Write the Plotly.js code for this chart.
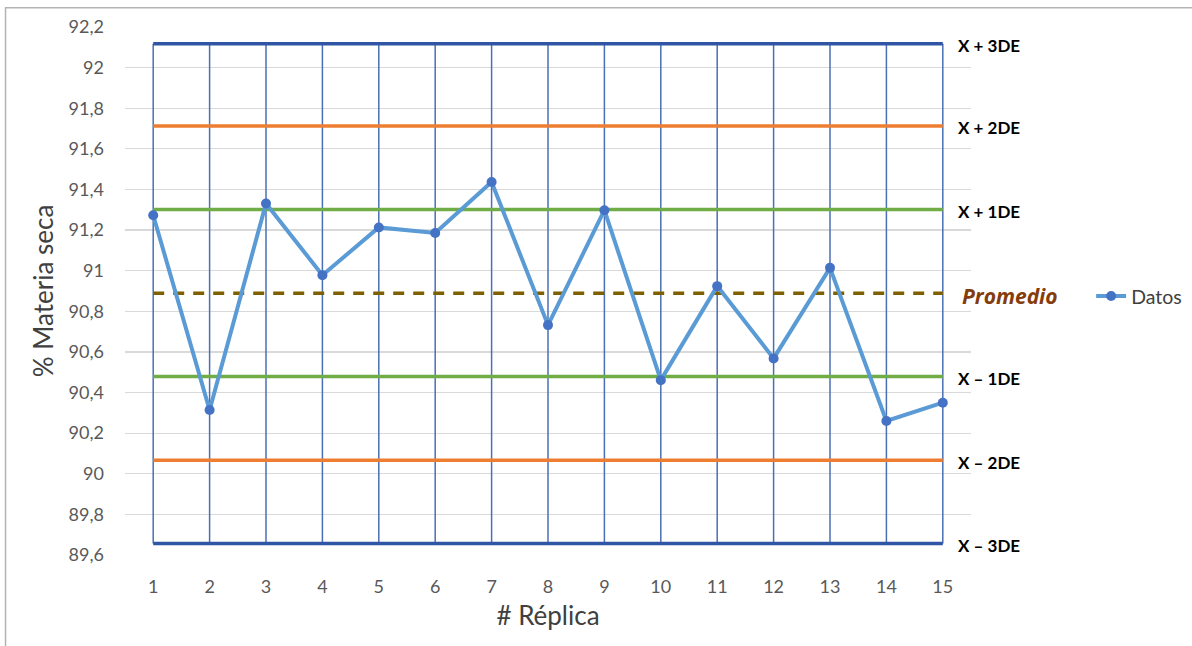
<!DOCTYPE html>
<html>
<head>
<meta charset="utf-8">
<script src="https://cdn.plot.ly/plotly-3.0.1.min.js"></script>
<style>
  html, body { margin: 0; padding: 0; background: #ffffff; }
  #chart { width: 1192px; height: 646px; }
</style>
</head>
<body>
<div id="chart"></div>
<script>
// Réplicas and measured dry-matter percentage
const replicas = [1, 2, 3, 4, 5, 6, 7, 8, 9, 10, 11, 12, 13, 14, 15];
const materiaSeca = [91.273, 90.314, 91.331, 90.978, 91.213, 91.186, 91.437, 90.732,
                     91.298, 90.461, 90.924, 90.568, 91.014, 90.260, 90.350];

// Control limits (mean and ±1, ±2, ±3 standard deviations)
const promedio = 90.889;
const limitNames = ['X + 3DE', 'X + 2DE', 'X + 1DE', 'X \u2013 1DE', 'X \u2013 2DE', 'X \u2013 3DE'];
const limitValues = [92.118, 91.713, 91.301, 90.479, 90.067, 89.657];
const limitColors = ['#2f55a4', '#ed7d31', '#70ad47', '#70ad47', '#ed7d31', '#2f55a4'];

// Axis ticks
const yTickVals = [89.6, 89.8, 90, 90.2, 90.4, 90.6, 90.8, 91, 91.2, 91.4, 91.6, 91.8, 92, 92.2];
const yTickText = ['89,6', '89,8', '90', '90,2', '90,4', '90,6', '90,8', '91', '91,2', '91,4', '91,6', '91,8', '92', '92,2'];
const xTickText = replicas.map(String);

const FONT = 'Lato, "Liberation Sans", Arial, sans-serif';
const WIDE = '"Open Sans", Lato, sans-serif';
const first = replicas[0];
const last = replicas[replicas.length - 1];
const upper3 = limitValues[0];
const lower3 = limitValues[limitValues.length - 1];

const traces = [];

// Vertical lines at each réplica, spanning the ±3DE band
const vx = [], vy = [];
replicas.forEach(r => { vx.push(r, r, null); vy.push(lower3, upper3, null); });
traces.push({
  x: vx, y: vy, mode: 'lines', type: 'scatter',
  line: { color: '#4a6fb5', width: 1.5 },
  hoverinfo: 'skip', showlegend: false
});

// Horizontal control limits
limitValues.forEach((v, i) => {
  traces.push({
    x: [first, last], y: [v, v], mode: 'lines', type: 'scatter',
    line: { color: limitColors[i], width: 3.5 },
    hoverinfo: 'skip', showlegend: false
  });
});

// Mean line
traces.push({
  x: [first, last], y: [promedio, promedio], mode: 'lines', type: 'scatter',
  line: { color: '#7f6000', width: 3.5, dash: '11px,9px' },
  hoverinfo: 'skip', showlegend: false
});

// Data series
traces.push({
  x: replicas, y: materiaSeca, name: 'Datos', mode: 'lines+markers', type: 'scatter',
  line: { color: '#5b9bd5', width: 4 },
  marker: { color: '#4472c4', size: 10 },
  showlegend: true
});

// Labels to the right of each limit line
const annotations = limitValues.map((v, i) => ({
  x: last, y: v, xref: 'x', yref: 'y', xanchor: 'left', yanchor: 'middle',
  xshift: 13, yshift: -2, showarrow: false,
  text: '<b>' + limitNames[i] + '</b>',
  font: { family: FONT, size: 17, color: '#000000' }
}));
annotations.push({
  x: last, y: promedio, xref: 'x', yref: 'y', xanchor: 'left', yanchor: 'middle',
  xshift: 17, yshift: -3, showarrow: false,
  text: '<b><i>Promedio</i></b>',
  font: { family: WIDE, size: 21, color: '#843c0c' }
});

const layout = {
  width: 1192, height: 646,
  paper_bgcolor: '#ffffff', plot_bgcolor: '#ffffff',
  margin: { l: 125, r: 220.5, t: 26.7, b: 91, pad: 0, autoexpand: false },
  font: { family: FONT, color: '#595959' },
  xaxis: {
    range: [first - 0.5, last + 0.5],
    tickvals: replicas, ticktext: xTickText,
    showgrid: false, zeroline: false, showline: false, ticks: '',
    ticklabelstandoff: 19,
    tickfont: { family: FONT, size: 18, color: '#595959' },
    title: { text: '# Réplica', font: { family: FONT, size: 26, color: '#404040' }, standoff: 10 }
  },
  yaxis: {
    range: [89.6, 92.2],
    tickvals: yTickVals, ticktext: yTickText,
    showgrid: true, gridcolor: '#d9d9d9', gridwidth: 1.2,
    zeroline: false, showline: false, ticks: '',
    ticklabelstandoff: 20,
    tickfont: { family: FONT, size: 18, color: '#595959' },
    title: { text: '% Materia seca', font: { family: FONT, size: 26, color: '#404040' }, standoff: 7 }
  },
  showlegend: true,
  legend: {
    x: 1.142, y: 0.49, xanchor: 'left', yanchor: 'middle',
    bgcolor: 'rgba(0,0,0,0)',
    font: { family: FONT, size: 19.5, color: '#404040' }
  },
  annotations: annotations,
  shapes: [{
    type: 'rect', xref: 'paper', yref: 'paper',
    x0: -0.1412, x1: 1.5, y0: -0.3, y1: 1.0363,
    line: { color: '#b3b3b3', width: 1.5 }, fillcolor: 'rgba(0,0,0,0)', layer: 'below'
  }]
};

Plotly.newPlot('chart', traces, layout, { displayModeBar: false, staticPlot: true });
</script>
</body>
</html>
